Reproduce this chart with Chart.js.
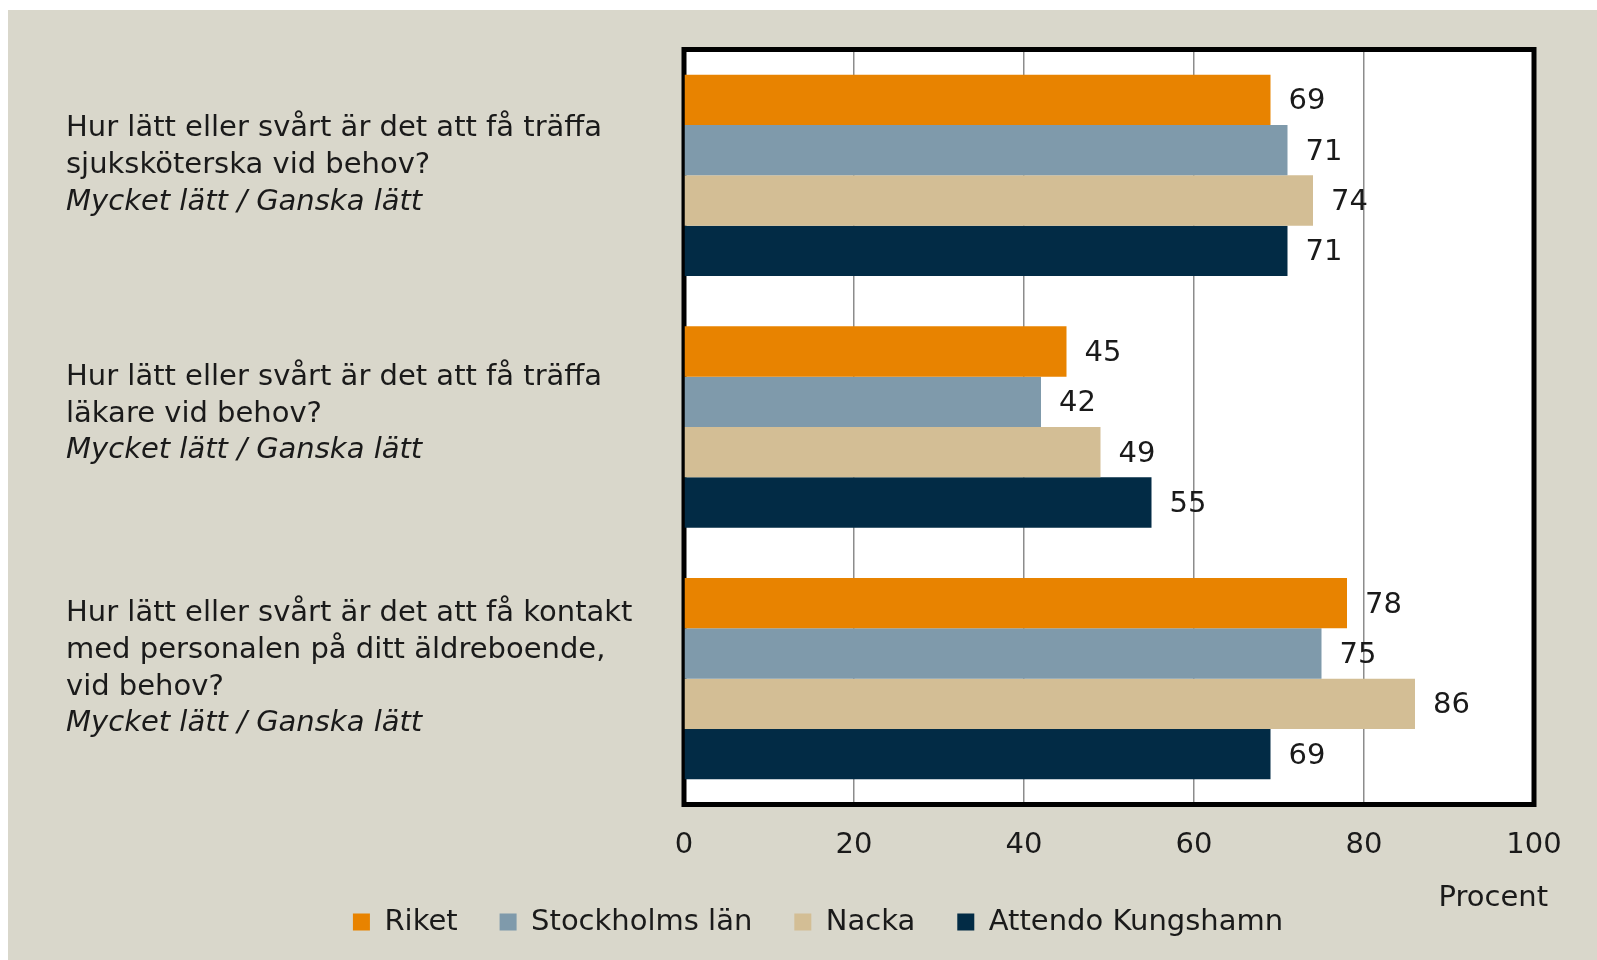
<!DOCTYPE html>
<html>
<head>
<meta charset="utf-8">
<script src="https://cdn.jsdelivr.net/npm/chart.js@4"></script>
<style>
  body { margin: 0; background: #ffffff; }
  #wrap { position: absolute; left: 8px; top: 10px; width: 1589px; height: 950px; background: #d9d7cb; }
</style>
</head>
<body>
<div id="wrap"><canvas id="chart"></canvas></div>
<script>
// Frågor (rader) och undertext
const questions = [
    ['Hur lätt eller svårt är det att få träffa', 'sjuksköterska vid behov?'],
    ['Hur lätt eller svårt är det att få träffa', 'läkare vid behov?'],
    ['Hur lätt eller svårt är det att få kontakt', 'med personalen på ditt äldreboende,', 'vid behov?']
];
const subText = 'Mycket lätt / Ganska lätt';

// Serier
const seriesNames = ['Riket', 'Stockholms län', 'Nacka', 'Attendo Kungshamn'];
const riket = [69, 45, 78];
const stockholm = [71, 42, 75];
const nacka = [74, 49, 86];
const attendo = [71, 55, 69];
const seriesColors = ['#e88300', '#7f9aab', '#d3be95', '#022b45'];

const xTicks = [0, 20, 40, 60, 80, 100];
const axisTitle = 'Procent';

const FONT = '"DejaVu Sans", sans-serif';
const TEXT = '#1a1a1a';

// Vit plotyta + svart ram + etiketter
const framePlugin = {
    id: 'frame',
    beforeDraw(chart) {
        const a = chart.chartArea;
        const ctx = chart.ctx;
        ctx.save();
        ctx.fillStyle = '#ffffff';
        ctx.fillRect(a.left, a.top, a.right - a.left, a.bottom - a.top);
        ctx.restore();
    },
    beforeDatasetsDraw(chart) {
        const a = chart.chartArea;
        const ctx = chart.ctx;
        ctx.save();
        ctx.strokeStyle = '#000000';
        ctx.lineWidth = 5;
        ctx.strokeRect(a.left, a.top, a.right - a.left, a.bottom - a.top);
        ctx.restore();
    },
    afterDatasetsDraw(chart) {
        const ctx = chart.ctx;
        ctx.save();
        ctx.font = '29px ' + FONT;
        ctx.fillStyle = TEXT;
        ctx.textBaseline = 'middle';
        ctx.textAlign = 'left';
        chart.data.datasets.forEach((ds, i) => {
            chart.getDatasetMeta(i).data.forEach((bar, j) => {
                ctx.fillText(String(ds.data[j]), bar.x + 18, bar.y + 2);
            });
        });

        // frågetexter till vänster
        const yScale = chart.scales.y;
        const lineH = 36.7;
        const shift = [-10, -13, -10];
        questions.forEach((lines, i) => {
            const all = lines.concat([subText]);
            const mid = yScale.getPixelForValue(i) + shift[i];
            const y0 = mid - (all.length - 1) * lineH / 2;
            all.forEach((txt, k) => {
                ctx.font = (k === all.length - 1 ? 'italic ' : '') + '29px ' + FONT;
                ctx.fillText(txt, 58, y0 + k * lineH);
            });
        });

        // axeltitel
        ctx.font = '29px ' + FONT;
        ctx.textAlign = 'right';
        ctx.fillText(axisTitle, 1540, 888);
        ctx.restore();
    }
};

const datasets = [riket, stockholm, nacka, attendo].map((vals, i) => ({
    label: seriesNames[i],
    data: vals,
    backgroundColor: seriesColors[i],
    borderWidth: 0,
    categoryPercentage: 0.8,
    barPercentage: 1.0
}));

new Chart(document.getElementById('chart'), {
    type: 'bar',
    data: {
        labels: questions.map(q => q.join(' ')),
        datasets: datasets
    },
    options: {
        indexAxis: 'y',
        responsive: true,
        maintainAspectRatio: false,
        animation: false,
        layout: {
            padding: { left: 94, right: 63, top: 39.5, bottom: 13.5 }
        },
        plugins: {
            tooltip: { enabled: false },
            legend: {
                position: 'bottom',
                labels: {
                    boxWidth: 17,
                    boxHeight: 17,
                    padding: 42,
                    color: TEXT,
                    font: { family: FONT, size: 29 }
                }
            }
        },
        scales: {
            x: {
                min: 0,
                max: 100,
                afterBuildTicks: (scale) => { scale.ticks = xTicks.map(v => ({ value: v })); },
                afterFit: (scale) => { scale.height = 61; },
                grid: { color: '#8c8c8c', lineWidth: 1.5, drawTicks: false },
                border: { display: false },
                ticks: {
                    padding: 24,
                    color: TEXT,
                    font: { family: FONT, size: 29 }
                }
            },
            y: {
                grid: { display: false },
                border: { display: false },
                ticks: { display: false },
                afterFit: (scale) => { scale.width = 582; }
            }
        }
    },
    plugins: [framePlugin]
});
</script>
</body>
</html>
